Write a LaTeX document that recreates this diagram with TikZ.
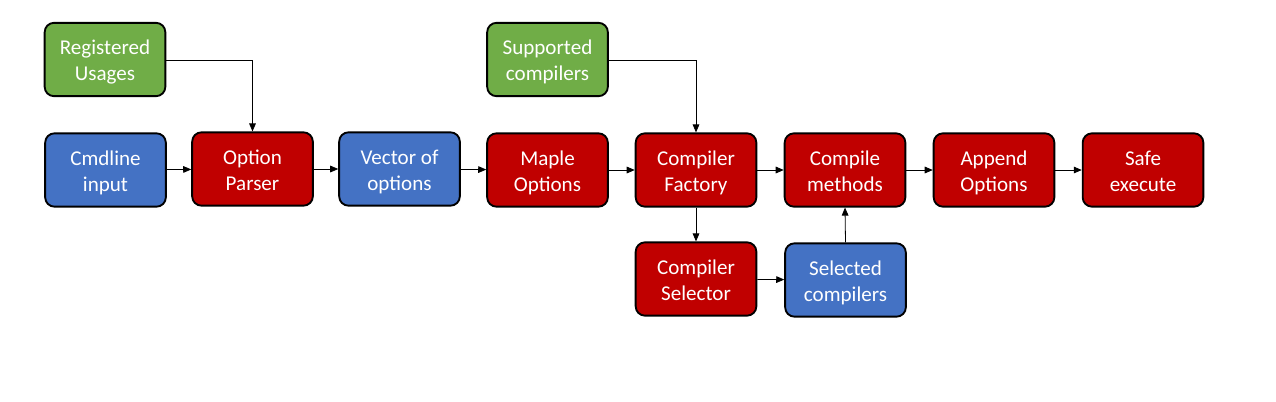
\documentclass[tikz,border=0pt]{standalone}
\usepackage{fontspec}
\setmainfont{Carlito}
\usetikzlibrary{arrows.meta}
\definecolor{cgreen}{HTML}{70AD47}
\definecolor{cblue}{HTML}{4472C4}
\definecolor{cred}{HTML}{C00000}
\begin{document}
\begin{tikzpicture}[x=0.75pt,y=-0.75pt,
  box/.style={draw=black,line width=1.4pt,rounded corners=7pt,minimum width=90.5pt,minimum height=55pt,inner sep=0pt,align=center,text=white,font=\fontsize{15.8}{19.5}\selectfont,text height=34.2pt,text depth=2pt},
  gbox/.style={box,fill=cgreen},
  bbox/.style={box,fill=cblue},
  rbox/.style={box,fill=cred},
  arr/.style={-{Triangle[length=6pt,width=5pt]},line width=0.6pt}]
\useasboundingbox (0,0) rectangle (1276,401);
\node[gbox] (reg) at (105,59.5) {Registered\\Usages};
\node[bbox] (cmd) at (105.5,170) {Cmdline\\input};
\node[rbox] (par) at (252.5,169) {Option\\Parser};
\node[bbox] (vec) at (399.5,169) {Vector of\\options};
\node[rbox] (map) at (547.5,170) {Maple\\Options};
\node[gbox] (sup) at (547.5,59.5) {Supported\\compilers};
\node[rbox] (fac) at (696,170) {Compiler\\Factory};
\node[rbox] (met) at (845,170) {Compile\\methods};
\node[rbox] (app) at (994,170) {Append\\Options};
\node[rbox] (saf) at (1143,170) {Safe\\execute};
\node[rbox] (sel) at (696,279) {Compiler\\Selector};
\node[bbox] (scp) at (845.5,280) {Selected\\compilers};
\draw[arr] (reg.east |- 0,60) -| (par.north);
\draw[arr] (sup.east |- 0,60) -| (fac.north);
\draw[arr] (cmd) -- (par);
\draw[arr] (par) -- (vec);
\draw[arr] (vec) -- (map);
\draw[arr] (map) -- (fac);
\draw[arr] (fac) -- (met);
\draw[arr] (met) -- (app);
\draw[arr] (app) -- (saf);
\draw[arr] (fac) -- (sel);
\draw[arr] (sel) -- (scp);
\draw[arr] (scp.north) -- (met.south);
\end{tikzpicture}
\end{document}
